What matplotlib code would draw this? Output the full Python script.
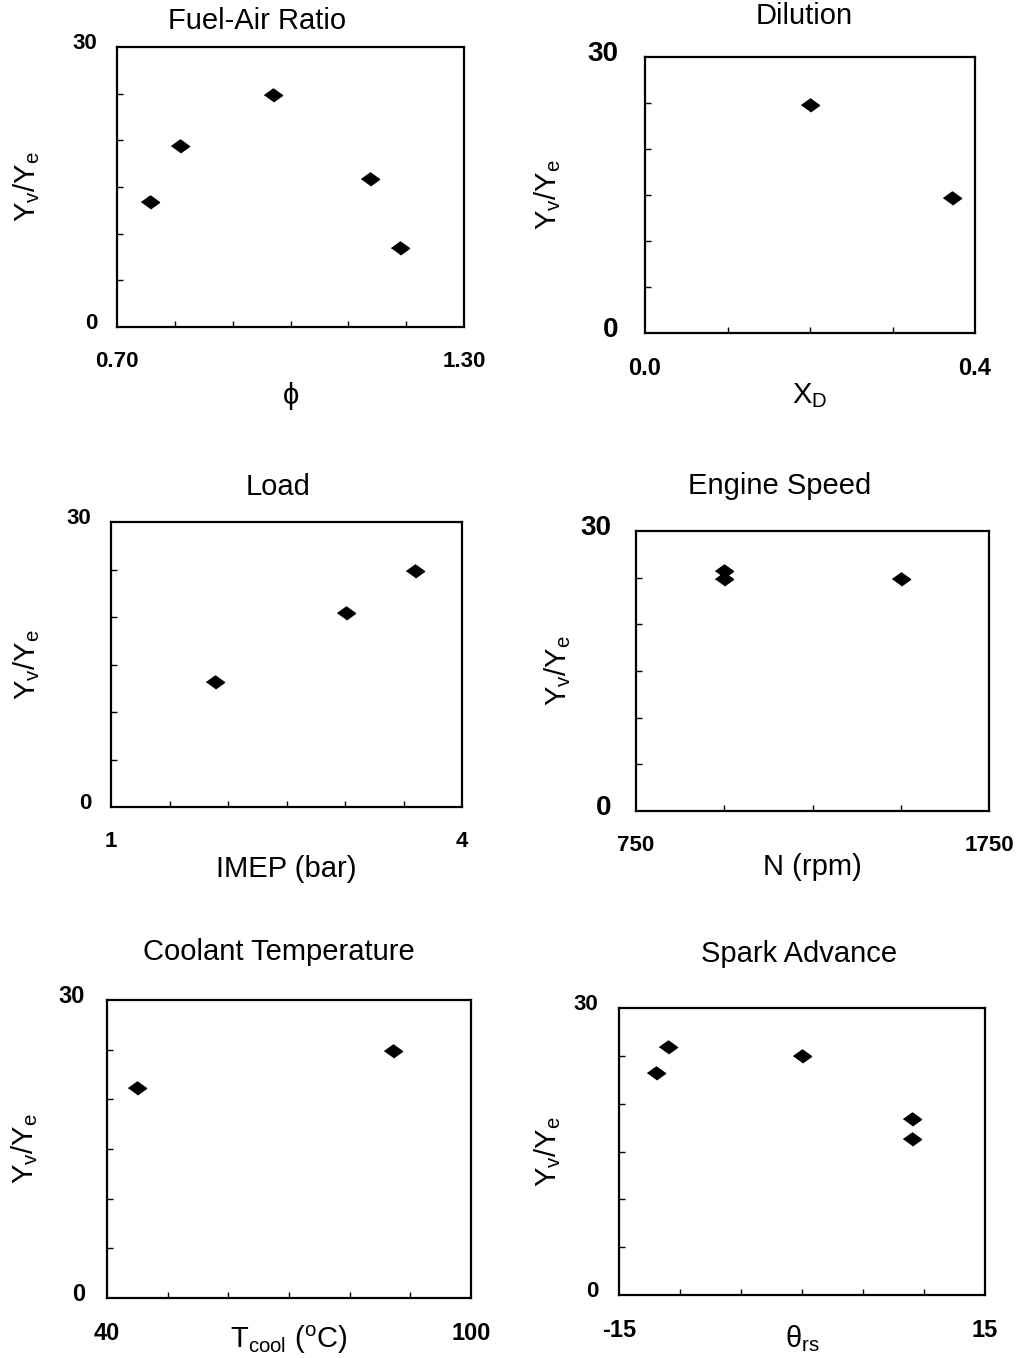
import matplotlib
matplotlib.use("Agg")
import matplotlib.pyplot as plt
import matplotlib.transforms as mtransforms

plt.rcParams["font.family"] = ["Liberation Sans", "DejaVu Sans"]
plt.rcParams["mathtext.fontset"] = "custom"
plt.rcParams["mathtext.rm"] = "Liberation Sans"
plt.rcParams["mathtext.it"] = "Liberation Sans:italic"
plt.rcParams["mathtext.bf"] = "Liberation Sans:bold"

# ── data ──────────────────────────────────────────────────────
titles = ["Fuel-Air Ratio", "Dilution", "Load", "Engine Speed",
          "Coolant Temperature", "Spark Advance"]
xlabels = ["ϕ", r"$\mathregular{X_D}$", "IMEP (bar)", "N (rpm)",
           r"T$_{\mathregular{cool}}$ ($^{\mathregular{o}}$C)", r"θ$_{\mathregular{rs}}$"]
ylabel = r"$\mathregular{Y_v/Y_e}$"

phi = [0.757, 0.809, 0.969, 1.138, 1.189]
phi_y = [13.4, 19.4, 24.9, 15.9, 8.5]

xd = [0.20, 0.372]
xd_y = [24.8, 14.7]

imep = [1.89, 3.01, 3.60]
imep_y = [13.2, 20.4, 24.8]

rpm = [1000, 1000, 1500]
rpm_y = [25.7, 24.9, 24.9]

tcool = [45.0, 87.1]
tcool_y = [21.1, 24.9]

theta = [-12.0, -11.0, 0.0, 9.0, 9.0]
theta_y = [23.2, 25.9, 25.0, 18.4, 16.3]

xs = [phi, xd, imep, rpm, tcool, theta]
ys = [phi_y, xd_y, imep_y, rpm_y, tcool_y, theta_y]

xlims = [(0.70, 1.30), (0.0, 0.4), (1, 4), (750, 1750), (40, 100), (-15, 15)]
xticklabels = [("0.70", "1.30"), ("0.0", "0.4"), ("1", "4"), ("750", "1750"),
               ("40", "100"), ("-15", "15")]
xminor = [[0.8, 0.9, 1.0, 1.1, 1.2], [0.1, 0.2, 0.3], [1.5, 2.0, 2.5, 3.0, 3.5],
          [1000, 1250, 1500], [50, 60, 70, 80, 90], [-10, -5, 0, 5, 10]]
ylim = (0, 30)
yminor = [5, 10, 15, 20, 25]

# ── layout (pixel boxes measured on the 1021x1358 page) ───────
W, H = 1021, 1358
boxes = [(117, 47, 464, 327), (645, 57, 975, 333),
         (111, 522, 462, 807), (636, 531, 989, 811),
         (107, 1000, 471, 1298), (619, 1008, 985, 1295)]
title_xy = [(257, 37), (804, 32), (278, 503), (780, 502), (279, 968), (799, 970)]  # baselines
ylab_x = [27, 548, 27, 558, 25, 548]
xlab_y = [404, 403, 877, 875, 1348, 1347]  # baselines
ytick_size = [16, 20, 16, 20, 17, 16]
ytick_pad = [14, 19, 14, 18, 16, 15]
xtick_size = [16, 17, 16, 16, 17, 17]

fig = plt.figure(figsize=(W / 100, H / 100), dpi=100)
lift = mtransforms.ScaledTranslation(0, 6 / 100, fig.dpi_scale_trans)

for i in range(6):
    x0, y0, x1, y1 = boxes[i]
    wpx, hpx = x1 - x0, y1 - y0
    ax = fig.add_axes([x0 / W, 1 - y1 / H, wpx / W, hpx / H])

    ax.plot(xs[i], ys[i], linestyle="none", color="black",
            marker=[(-1, 0), (0, 0.72), (1, 0), (0, -0.72)], markersize=13)

    ax.set_xlim(*xlims[i])
    ax.set_ylim(*ylim)
    ax.set_xticks(list(xlims[i]))
    ax.set_xticklabels(xticklabels[i])
    ax.set_xticks(xminor[i], minor=True)
    ax.set_yticks(list(ylim))
    ax.set_yticklabels(["0", "30"])
    ax.set_yticks(yminor, minor=True)

    ax.tick_params(which="both", direction="in", color="black")
    ax.tick_params(which="major", length=0)
    ax.tick_params(which="minor", length=4, width=1)
    ax.tick_params(axis="x", which="major", labelsize=xtick_size[i], pad=17)
    ax.tick_params(axis="y", which="major", labelsize=ytick_size[i], pad=ytick_pad[i])
    for lab in ax.get_xticklabels() + ax.get_yticklabels():
        lab.set_fontweight("bold")
    for lab in ax.get_yticklabels():
        lab.set_transform(lab.get_transform() + lift)

    for sp in ax.spines.values():
        sp.set_linewidth(1.6)
        sp.set_color("black")

    tx, ty = title_xy[i]
    ax.set_title(titles[i], fontsize=21, x=(tx - x0) / wpx, y=(y0 - ty) / hpx + 1,
                 va="baseline", ha="center")

    ax.set_xlabel(xlabels[i], fontsize=21)
    ax.xaxis.label.set_va("baseline")
    ax.xaxis.set_label_coords(0.5, -(xlab_y[i] - y1) / hpx)

    ax.set_ylabel(ylabel, fontsize=21)
    ax.yaxis.label.set_va("center")
    ax.yaxis.set_label_coords(-(x0 - ylab_x[i]) / wpx, 0.5)

fig.savefig("out.png", dpi=100)
